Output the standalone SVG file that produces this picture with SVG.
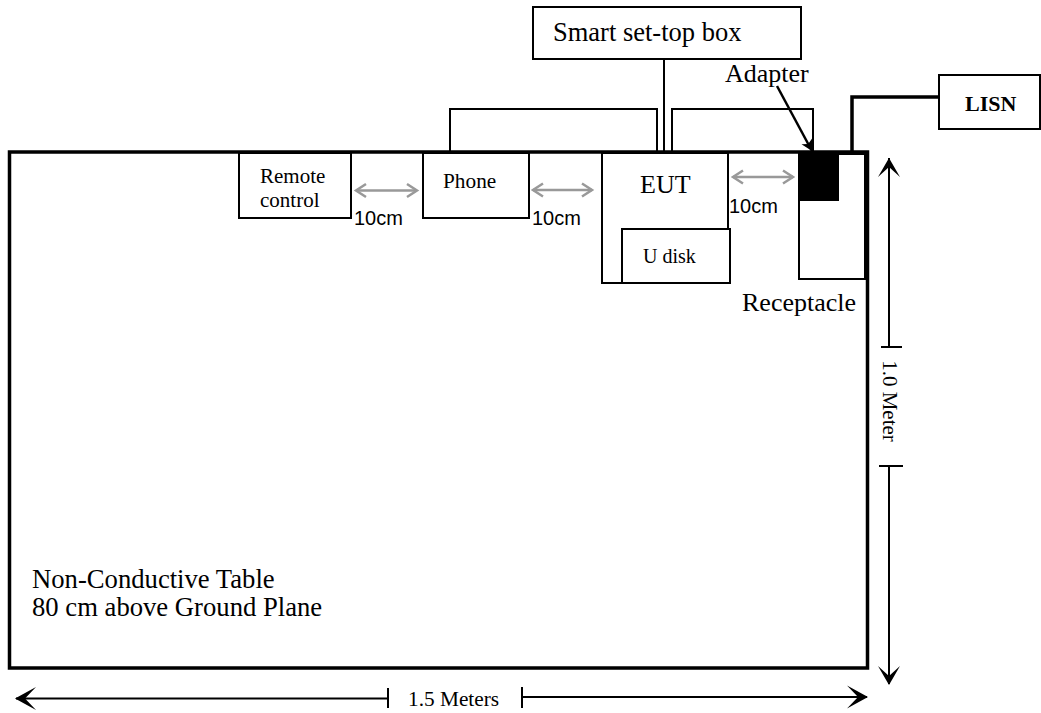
<svg xmlns="http://www.w3.org/2000/svg" width="1041" height="713" viewBox="0 0 1041 713">
<style>
.box{fill:#fff;stroke:#000;stroke-width:2}
.t{font-family:"Liberation Serif","Times New Roman",serif;fill:#000}
.a{font-family:"Liberation Sans",Arial,sans-serif;fill:#000}
.w{fill:none;stroke:#000;stroke-width:2}
.g{fill:none;stroke:#999;stroke-width:2.5}
.gh{fill:none;stroke:#999;stroke-width:2.5;stroke-linejoin:miter}
.k{fill:none;stroke:#000;stroke-width:2}
</style>
<defs>
<marker id="ah" markerWidth="14" markerHeight="14" viewBox="-12 -7 14 14" refX="0" refY="0" orient="auto-start-reverse" markerUnits="userSpaceOnUse">
<path d="M-11,-6 L0,0 L-11,6 L-8,0 Z" fill="#000"/>
</marker>
</defs>
<g id="table">
<rect x="9.5" y="152" width="858" height="516" fill="#fff" stroke="#000" stroke-width="3.5"/>
<text class="t" x="32" y="588" font-size="26.67">Non-Conductive Table</text>
<text class="t" x="32" y="616" font-size="26.67">80 cm above Ground Plane</text>
</g>
<g id="settop">
<rect class="box" x="533" y="7" width="268" height="52"/>
<text class="t" x="553" y="41" font-size="26.5">Smart set-top box</text>
</g>
<g id="remote">
<rect class="box" x="239" y="153" width="112" height="65"/>
<text class="t" x="260" y="183" font-size="21">Remote</text>
<text class="t" x="260" y="207" font-size="21">control</text>
</g>
<g id="phone">
<rect class="box" x="423" y="153" width="106" height="65"/>
<text class="t" x="443" y="188" font-size="21.3">Phone</text>
</g>
<g id="eut">
<rect class="box" x="602" y="153" width="126" height="130"/>
<text class="t" x="640" y="193" font-size="26">EUT</text>
</g>
<g id="udisk">
<rect class="box" x="622" y="229" width="108" height="54"/>
<text class="t" x="643" y="263" font-size="20">U disk</text>
</g>
<g id="receptacle">
<rect class="box" x="799" y="154" width="66" height="125"/>
<rect x="799" y="154" width="40" height="47" fill="#000"/>
<text class="t" x="742" y="311" font-size="26">Receptacle</text>
</g>
<g id="adapter">
<text class="t" x="725" y="82" font-size="26">Adapter</text>
</g>
<g id="lisn">
<rect class="box" x="939" y="75" width="101" height="54"/>
<text class="t" x="965" y="111" font-size="22" font-weight="bold">LISN</text>
</g>
<g id="connectors">
<path class="w" d="M664,59 V153"/>
<path class="w" d="M450,153 V109 H657 V153"/>
<path class="w" d="M672,153 V109 H813 V153"/>
<path d="M852,153 V97 H939" fill="none" stroke="#000" stroke-width="3.5"/>
<path d="M777,86 L812,151" fill="none" stroke="#000" stroke-width="2.5" marker-end="url(#ah)"/>
<g>
<path class="g" d="M356,190.5 H417"/>
<path class="gh" d="M366,184 L356,190.5 L366,197 M407,184 L417,190.5 L407,197"/>
<path class="g" d="M533,190 H592"/>
<path class="gh" d="M543,183.5 L533,190 L543,196.5 M582,183.5 L592,190 L582,196.5"/>
<path class="g" d="M733,177 H793"/>
<path class="gh" d="M743,170.5 L733,177 L743,183.5 M783,170.5 L793,177 L783,183.5"/>
</g>
<text class="a" x="354" y="225" font-size="20">10cm</text>
<text class="a" x="532" y="225" font-size="20">10cm</text>
<text class="a" x="729" y="213" font-size="20">10cm</text>
</g>
<g id="dim-vertical">
<path class="k" d="M889,158 V347 M881,347 H902 M879,466 H903 M889,466 V684"/>
<path d="M878,177 L889,158 L900,177 L889,167 Z M878,666 L889,685 L900,666 L889,676 Z" fill="#000"/>
<text class="t" font-size="21" text-anchor="middle" transform="translate(883,401) rotate(90)">1.0 Meter</text>
</g>
<g id="dim-horizontal">
<path class="k" d="M16,698.5 H388 M388,688 V708 M522,687 V708 M522,697 H867"/>
<path d="M36,687 L15,698.5 L36,710 L25,698.5 Z M847,685.5 L868,697 L847,708.5 L858,697 Z" fill="#000"/>
<text class="t" x="408" y="706" font-size="21.3">1.5 Meters</text>
</g>
</svg>
